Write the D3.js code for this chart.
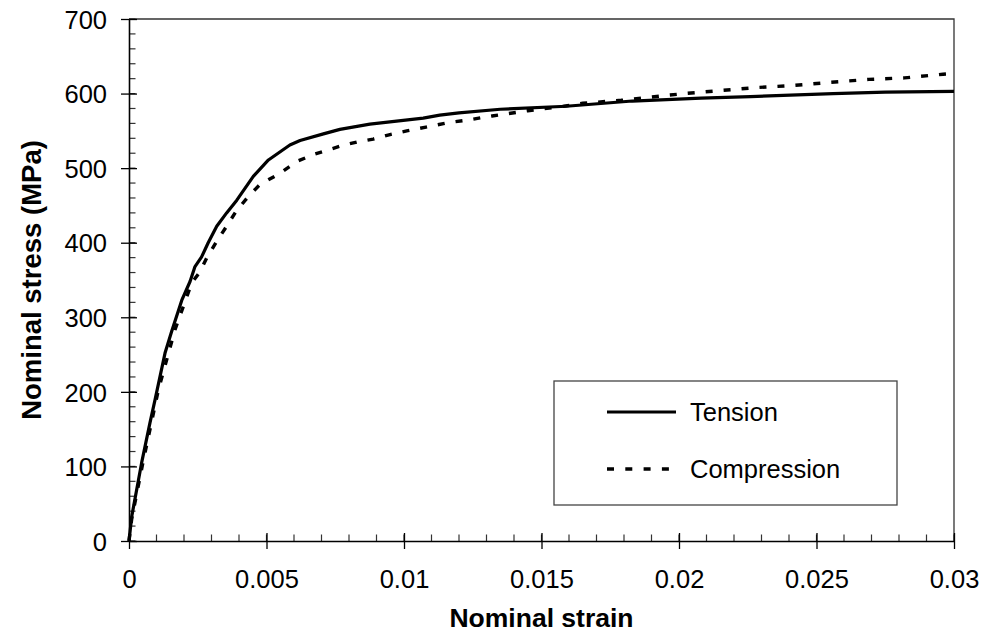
<!DOCTYPE html>
<html>
<head>
<meta charset="utf-8">
<script src="https://cdn.jsdelivr.net/npm/d3@7"></script>
<style>
  body { margin: 0; background: #fff; }
  text { font-family: Arial, "Liberation Sans", sans-serif; fill: #000; }
</style>
</head>
<body>
<div id="chart"></div>
<script>
// values
var tensionStrain = [0, 0.0001, 0.00046, 0.00076, 0.00095, 0.00131, 0.00155, 0.00192, 0.00222, 0.0024,
    0.00264, 0.00288, 0.00319, 0.00355, 0.00392, 0.00452, 0.00507, 0.00585, 0.00622, 0.00707,
    0.00767, 0.00876, 0.0107, 0.0113, 0.012, 0.0135, 0.0159, 0.0183, 0.0208, 0.0226, 0.0256, 0.0275, 0.03];
var tensionStress = [0, 33, 105, 158, 190, 252, 281, 323, 348, 368,
    381, 400, 422, 440, 457, 489, 511, 531, 537, 546,
    552, 559, 567, 571, 574, 579, 583, 590, 594, 596, 600, 602, 603];

var compressionStrain = [0, 0.0001, 0.0005, 0.00107, 0.00167, 0.00228, 0.00258, 0.00282, 0.00319, 0.00355, 0.00389,
    0.00434, 0.00476, 0.00549, 0.0061, 0.00676, 0.00773, 0.00828, 0.00888, 0.00949, 0.0101,
    0.0108, 0.0116, 0.0124, 0.0132, 0.0145, 0.0158, 0.0165, 0.0179, 0.0194, 0.0202,
    0.0228, 0.0242, 0.0255, 0.0269, 0.0282, 0.0296, 0.03];
var compressionStress = [0, 30, 104, 203, 283, 346, 361, 379, 402, 422, 442,
    462, 478, 493, 509, 519, 530, 535, 539, 545, 550,
    555, 561, 565, 570, 577, 583, 587, 591, 597, 600,
    608, 611, 615, 619, 621, 626, 627];

var xTicks = [0, 0.005, 0.01, 0.015, 0.02, 0.025, 0.03];
var xTickLabels = ["0", "0.005", "0.01", "0.015", "0.02", "0.025", "0.03"];
var yTicks = [0, 100, 200, 300, 400, 500, 600, 700];
var seriesNames = ["Tension", "Compression"];

var width = 988, height = 636;
var margin = { top: 19, right: 34, bottom: 95, left: 129 };
var plotW = width - margin.left - margin.right,
    plotH = height - margin.top - margin.bottom;

var svg = d3.select("#chart").append("svg")
    .attr("width", width)
    .attr("height", height);

var g = svg.append("g")
    .attr("transform", "translate(" + margin.left + "," + margin.top + ")");

var x = d3.scaleLinear().domain([0, 0.03]).range([0, plotW]);
var y = d3.scaleLinear().domain([0, 700]).range([plotH, 0]);

// frame on top and right
g.append("path")
    .attr("d", "M0,0H" + plotW + "V" + plotH)
    .attr("fill", "none")
    .attr("stroke", "#333")
    .attr("stroke-width", 1.3);

// minor ticks (inside)
var xMinor = d3.range(0, 31).map(function (i) { return i * 0.001; });
var yMinor = d3.range(0, 36).map(function (i) { return i * 20; });

g.selectAll(".xminor").data(xMinor).enter().append("line")
    .attr("x1", function (d) { return x(d); })
    .attr("x2", function (d) { return x(d); })
    .attr("y1", plotH).attr("y2", plotH - 6.5)
    .attr("stroke", "#333").attr("stroke-width", 1.2);

g.selectAll(".yminor").data(yMinor).enter().append("line")
    .attr("y1", function (d) { return y(d); })
    .attr("y2", function (d) { return y(d); })
    .attr("x1", 0).attr("x2", 6.5)
    .attr("stroke", "#333").attr("stroke-width", 1.2);

// x axis
var xAxis = g.append("g")
    .attr("transform", "translate(0," + plotH + ")")
    .call(d3.axisBottom(x).tickValues(xTicks).tickSize(8).tickSizeOuter(0)
        .tickFormat(function (d, i) { return xTickLabels[i]; }));
xAxis.select(".domain").attr("stroke", "#000").attr("stroke-width", 1.6);
xAxis.selectAll(".tick line").attr("y1", -8).attr("y2", 8).attr("stroke-width", 1.3);
xAxis.selectAll(".tick text")
    .attr("y", 0).attr("dy", 0)
    .attr("transform", "translate(0,47)")
    .style("font-size", "25.5px");

// y axis
var yAxis = g.append("g")
    .call(d3.axisLeft(y).tickValues(yTicks).tickSize(8).tickSizeOuter(0));
yAxis.select(".domain").attr("stroke", "#000").attr("stroke-width", 1.6);
yAxis.selectAll(".tick line").attr("x1", 8).attr("x2", -8).attr("stroke-width", 1.3);
yAxis.selectAll(".tick text")
    .attr("x", -22)
    .attr("dy", "0.36em")
    .style("font-size", "25.5px");
svg.selectAll(".tick text").attr("font-family", null);

// curves
var line = d3.line()
    .x(function (d) { return x(d[0]); })
    .y(function (d) { return y(d[1]); });

var tension = d3.zip(tensionStrain, tensionStress);
var compression = d3.zip(compressionStrain, compressionStress);

g.append("path")
    .datum(compression)
    .attr("fill", "none")
    .attr("stroke", "#000")
    .attr("stroke-width", 3.4)
    .attr("stroke-dasharray", "7,11")
    .attr("d", line);

g.append("path")
    .datum(tension)
    .attr("fill", "none")
    .attr("stroke", "#000")
    .attr("stroke-width", 3.2)
    .attr("stroke-linejoin", "round")
    .attr("d", line);

// axis titles
svg.append("text")
    .attr("x", margin.left + plotW / 2)
    .attr("y", 627)
    .attr("text-anchor", "middle")
    .style("font-size", "26.5px")
    .style("font-weight", "bold")
    .text("Nominal strain");

svg.append("text")
    .attr("transform", "translate(41," + (margin.top + plotH / 2) + ") rotate(-90)")
    .attr("text-anchor", "middle")
    .style("font-size", "27.5px")
    .style("font-weight", "bold")
    .text("Nominal stress (MPa)");

// legend
var legend = svg.append("g").attr("transform", "translate(554,381)");
legend.append("rect")
    .attr("width", 343).attr("height", 124)
    .attr("fill", "#fff")
    .attr("stroke", "#444")
    .attr("stroke-width", 1.3);

var legendRows = legend.selectAll(".row").data(seriesNames).enter().append("g")
    .attr("transform", function (d, i) { return "translate(0," + (31 + i * 57) + ")"; });

legendRows.append("line")
    .attr("x1", 53).attr("x2", 122)
    .attr("stroke", "#000")
    .attr("stroke-width", function (d, i) { return i ? 3.6 : 3.2; })
    .attr("stroke-dasharray", function (d, i) { return i ? "7,11.3" : null; });

legendRows.append("text")
    .attr("x", 136)
    .attr("dy", "0.36em")
    .style("font-size", "25.5px")
    .text(function (d) { return d; });
</script>
</body>
</html>
